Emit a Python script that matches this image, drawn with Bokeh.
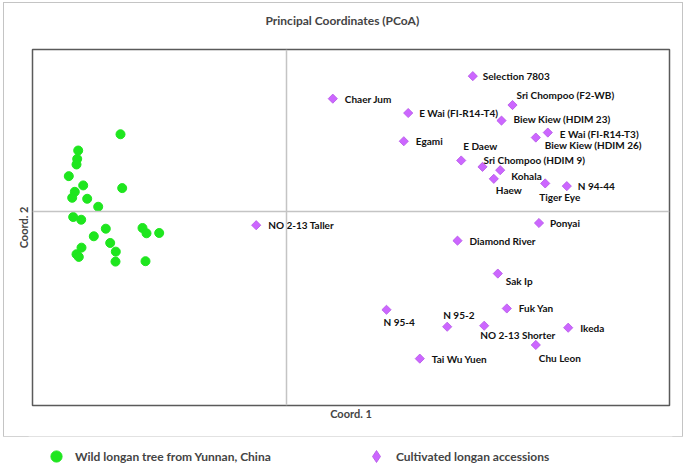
from bokeh.plotting import figure
from bokeh.layouts import column
from bokeh.models import (ColumnDataSource, Span, Legend, LegendItem, FixedTicker)
from bokeh.core.properties import value
from bokeh.embed import file_html
from bokeh.resources import INLINE
import numpy as np

# ---------------- data ----------------
wild_x = [-1.660, -2.083, -2.093, -2.100, -2.177, -2.033, -1.643, -2.117, -2.143, -1.993,
          -1.883, -2.133, -2.053, -1.807, -1.440, -1.400, -1.273, -1.927, -1.763, -2.050,
          -2.100, -2.077, -1.707, -1.710, -1.410]
wild_y = [0.775, 0.612, 0.528, 0.472, 0.355, 0.262, 0.235, 0.198, 0.138, 0.128,
          0.048, -0.055, -0.082, -0.172, -0.165, -0.218, -0.215, -0.248, -0.315, -0.362,
          -0.428, -0.455, -0.402, -0.502, -0.498]

cult_names = ["Selection 7803", "Chaer Jum", "E Wai (FI-R14-T4)", "Sri Chompoo (F2-WB)",
              "Biew Kiew (HDIM 23)", "Egami", "E Wai (FI-R14-T3)", "Biew Kiew (HDIM 26)",
              "E Daew", "Sri Chompoo (HDIM 9)", "Kohala", "Haew", "Tiger Eye", "N 94-44",
              "Ponyai", "NO 2-13 Taller", "Diamond River", "Sak Ip", "Fuk Yan", "N 95-4",
              "N 95-2", "NO 2-13 Shorter", "Ikeda", "Chu Leon", "Tai Wu Yuen"]
cult_x = [1.863, 0.463, 1.217, 2.260, 2.150, 1.173, 2.613, 2.493, 1.747, 1.960,
          2.137, 2.073, 2.587, 2.803, 2.525, -0.303, 1.710, 2.113, 2.203, 1.000,
          1.607, 1.977, 2.817, 2.493, 1.333]
cult_y = [1.358, 1.132, 0.988, 1.068, 0.912, 0.705, 0.792, 0.742, 0.512, 0.448,
          0.415, 0.328, 0.282, 0.255, -0.115, -0.137, -0.292, -0.622, -0.972, -0.985,
          -1.155, -1.145, -1.165, -1.338, -1.475]

title_text = "Principal Coordinates (PCoA)"
x_label = "Coord. 1"
y_label = "Coord. 2"
legend_labels = ["Wild longan tree from Yunnan, China", "Cultivated longan accessions"]

# label placement (pixel offsets from each marker), layout only
label_offsets = {
    "Selection 7803": (10, 0), "Chaer Jum": (12, 0), "E Wai (FI-R14-T4)": (11, 0),
    "Sri Chompoo (F2-WB)": (4, -10), "Biew Kiew (HDIM 23)": (12, -2), "Egami": (12, 0),
    "E Wai (FI-R14-T3)": (12, 1), "Biew Kiew (HDIM 26)": (9, 7), "E Daew": (2, -14),
    "Sri Chompoo (HDIM 9)": (1, -7), "Kohala": (11, 6), "Haew": (2, 11),
    "Tiger Eye": (-6, 14), "N 94-44": (11, 0), "Ponyai": (11, 0),
    "NO 2-13 Taller": (12, 0), "Diamond River": (12, 0), "Sak Ip": (8, 7),
    "Fuk Yan": (12, 0), "N 95-4": (-3, 12), "N 95-2": (-4, -12),
    "NO 2-13 Shorter": (-4, 9), "Ikeda": (12, 0), "Chu Leon": (3, 13),
    "Tai Wu Yuen": (12, 0),
}

FONT = "Lato"
GREEN = "#1ee61e"
VIOLET = "#cc66ff"

# ---------------- main chart ----------------
p = figure(width=678, height=433, x_range=(-2.54, 3.83), y_range=(-1.945, 1.625),
           output_backend="svg", toolbar_location=None, title=title_text + "\n ",
           min_border_left=28, min_border_right=13, min_border_top=45, min_border_bottom=31,
           margin=(3, 0, 0, 4))
p.styles = {"outline": "1px solid #c4c4c4"}

p.title.align = "left"
p.title.offset = 233
p.title.text_font = FONT
p.title.text_font_size = "12px"
p.title.text_font_style = "bold"
p.title.standoff = 14

p.xgrid.visible = False
p.ygrid.visible = False
for ax, lab, so in ((p.xaxis[0], x_label, 1), (p.yaxis[0], y_label, 3)):
    ax.ticker = FixedTicker(ticks=[])
    ax.axis_line_color = None
    ax.major_tick_line_color = None
    ax.minor_tick_line_color = None
    ax.major_tick_out = 0
    ax.major_tick_in = 0
    ax.major_label_standoff = 0
    ax.axis_label = lab
    ax.axis_label_text_font = FONT
    ax.axis_label_text_font_size = "11px"
    ax.axis_label_text_font_style = "bold"
    ax.axis_label_standoff = so

p.outline_line_color = "#5a5a5a"
p.outline_line_width = 1.5
p.background_fill_color = "white"
p.border_fill_color = "white"

p.add_layout(Span(location=0, dimension="height", line_color="#c4c4c4", line_width=1.5))
p.add_layout(Span(location=0, dimension="width", line_color="#c4c4c4", line_width=1.5))

wild_src = ColumnDataSource(dict(x=wild_x, y=wild_y))
p.scatter("x", "y", source=wild_src, marker="circle", size=9,
          fill_color=GREEN, line_color=GREEN)

dx = [label_offsets[n][0] for n in cult_names]
dy = [label_offsets[n][1] for n in cult_names]
cult_src = ColumnDataSource(dict(x=cult_x, y=cult_y, name=cult_names, dx=dx, dy=dy))
p.scatter("x", "y", source=cult_src, marker="square", angle=np.pi / 4, size=6.5,
          fill_color=VIOLET, line_color="#b455e6", line_width=0.8)
p.text("x", "y", text="name", source=cult_src, x_offset="dx", y_offset="dy",
       text_font=value(FONT), text_font_size="10px", text_font_style="bold",
       text_color="#111111", text_align="left", text_baseline="middle")

# ---------------- legend strip ----------------
lg = figure(width=685, height=29, x_range=(0, 1), y_range=(0, 1),
            output_backend="svg", toolbar_location=None,
            min_border=0, x_axis_location=None, y_axis_location=None)
lg.xgrid.visible = False
lg.ygrid.visible = False
lg.outline_line_color = None
lg.background_fill_color = "white"
lg.border_fill_color = "white"

# legend-key renderers (kept outside the visible range; only their legend glyphs show)
r_wild = lg.scatter(x=[-5], y=[-5], marker="circle", fill_color=GREEN, line_color=GREEN)
r_cult = lg.scatter(x=[-5], y=[-5], marker="diamond", fill_color=VIOLET,
                    line_color="#b455e6", line_width=0.8)

common = dict(orientation="horizontal", margin=0, padding=0,
              label_text_font=FONT, label_text_font_size="12px",
              label_text_font_style="bold", label_standoff=5,
              border_line_color=None, background_fill_alpha=0)
lg.add_layout(Legend(items=[LegendItem(label=legend_labels[0], renderers=[r_wild])],
                     location=(14, -5), glyph_width=28, glyph_height=28, label_height=28,
                     **common))
lg.add_layout(Legend(items=[LegendItem(label=legend_labels[1], renderers=[r_cult])],
                     location=(333, -6), glyph_width=30, glyph_height=30, label_height=30,
                     **common))

open("out.html", "w").write(file_html(column(p, lg), INLINE))
